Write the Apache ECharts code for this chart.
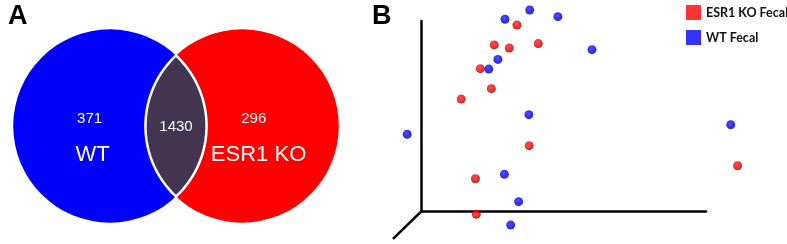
<!DOCTYPE html>
<html>
<head>
<meta charset="utf-8">
<script src="https://cdn.jsdelivr.net/npm/echarts@6/dist/echarts.min.js"></script>
<style>html,body{margin:0;padding:0;background:#fff;}#c{width:787px;height:244px;}</style>
</head>
<body>
<div id="c"></div>
<script>
// ---- Data ----
const vennSetNames = ['WT', 'ESR1 KO'];
const vennUniqueCounts = [371, 296];
const vennSharedCount = 1430;
const vennCenters = [[-0.684, 0], [0.684, 0]]; // unit circles, centre distance / radius
const vennRadius = 1;

const seriesNames = ['ESR1 KO Fecal', 'WT Fecal'];
const koPoints = [
  [33.5, 97.9], [25.5, 87.4], [30.8, 85.8], [41.0, 88.1], [20.6, 74.9],
  [24.5, 64.4], [13.9, 58.9], [37.8, 34.4], [111.1, 23.8], [18.9, 17.0], [19.2, -1.7]
];
const wtPoints = [
  [38.0, 105.8], [29.3, 100.9], [47.9, 102.3], [59.9, 84.9], [26.8, 79.8],
  [23.6, 74.7], [37.7, 50.7], [-5.1, 40.4], [108.7, 45.4], [29.1, 19.3],
  [34.1, 4.9], [31.3, -7.4]
];
const depthAxis = [[0, 0, -10.1, -14.7]];

// ---- Styles ----
const vennColors = ['#0000ff', '#ff0000'];
const lensColor = '#433550';
const countDx = [-0.21, 0.12];
const nameDx = [-0.18, 0.17];

function sphere(light, base, dark) {
  return {
    type: 'radial', x: 0.42, y: 0.38, r: 0.62,
    colorStops: [{offset: 0, color: light}, {offset: 0.6, color: base}, {offset: 1, color: dark}]
  };
}

const chart = echarts.init(document.getElementById('c'), null, {renderer: 'canvas'});

const hiddenAxis = (idx, min, max) => ({
  gridIndex: idx, type: 'value', min, max, show: false
});

const frameAxis = (idx, min, max) => ({
  gridIndex: idx, type: 'value', min, max,
  axisLine: {show: true, onZero: false, lineStyle: {color: '#000', width: 2.5}},
  axisTick: {show: false}, axisLabel: {show: false}, splitLine: {show: false}
});

chart.setOption({
  animation: false,
  title: [
    {text: 'A', left: 3, top: -2, textStyle: {fontFamily: 'Liberation Sans', fontWeight: 'bold', fontSize: 27, color: '#000'}},
    {text: 'B', left: 367, top: -2, textStyle: {fontFamily: 'Liberation Sans', fontWeight: 'bold', fontSize: 27, color: '#000'}}
  ],
  grid: [
    {left: 2, top: 10, width: 348, height: 232},
    {left: 421.7, top: 21, width: 284.3, height: 190}
  ],
  xAxis: [hiddenAxis(0, -1.8, 1.8), frameAxis(1, 0, 100)],
  yAxis: [hiddenAxis(0, -1.2, 1.2), frameAxis(1, 0, 100)],
  legend: {
    data: [
      {name: seriesNames[0], itemStyle: {color: '#ff0000'}},
      {name: seriesNames[1], itemStyle: {color: '#0000ff'}}
    ],
    orient: 'vertical', left: 686, top: 5, padding: 0, itemWidth: 15, itemHeight: 15, itemGap: 10,
    icon: 'rect',
    textStyle: {fontFamily: 'Lato', fontWeight: 'bold', fontSize: 12.5, color: '#111'}
  },
  series: [
    {
      type: 'custom', xAxisIndex: 0, yAxisIndex: 0, silent: true,
      data: vennCenters.map((c, i) => [c[0], c[1], vennRadius, i]),
      renderItem: function (params, api) {
        const i = api.value(3);
        const c = api.coord([api.value(0), api.value(1)]);
        const r = api.size([api.value(2), 0])[0];
        const unit = api.size([1, 0])[0];
        return {
          type: 'group',
          children: [
            {type: 'circle', shape: {cx: c[0], cy: c[1], r: r}, style: {fill: vennColors[i]}},
            {type: 'text', style: {text: String(vennUniqueCounts[i]), x: c[0] + countDx[i] * unit, y: c[1] - 7,
              fill: '#fff', font: '15px "Liberation Sans"', align: 'center', verticalAlign: 'middle'}, z2: 10},
            {type: 'text', style: {text: vennSetNames[i], x: c[0] + nameDx[i] * unit, y: c[1] + 29,
              fill: '#fff', font: '22px "Liberation Sans"', align: 'center', verticalAlign: 'middle'}, z2: 10}
          ]
        };
      }
    },
    {
      type: 'custom', xAxisIndex: 0, yAxisIndex: 0, silent: true, z: 3,
      data: [[vennCenters[0][0], vennCenters[1][0], vennCenters[0][1], vennRadius]],
      renderItem: function (params, api) {
        const a = api.coord([api.value(0), api.value(2)]);
        const b = api.coord([api.value(1), api.value(2)]);
        const r = api.size([api.value(3), 0])[0];
        const d = b[0] - a[0];
        const h = Math.sqrt(r * r - (d / 2) * (d / 2));
        const mx = (a[0] + b[0]) / 2, cy = a[1];
        const pts = [];
        const ang = Math.asin(h / r);
        const N = 60;
        for (let k = 0; k <= N; k++) {
          const t = -ang + (2 * ang) * k / N;
          pts.push([a[0] + r * Math.cos(t), cy + r * Math.sin(t)]);
        }
        for (let k = 0; k <= N; k++) {
          const t = Math.PI - ang + (2 * ang) * k / N;
          pts.push([b[0] + r * Math.cos(t), cy + r * Math.sin(t)]);
        }
        return {
          type: 'group',
          children: [
            {type: 'polygon', shape: {points: pts}, style: {fill: lensColor, stroke: '#fff', lineWidth: 2.5}},
            {type: 'text', style: {text: String(vennSharedCount), x: mx, y: cy + 1, fill: '#fff',
              font: '15px "Liberation Sans"', align: 'center', verticalAlign: 'middle'}, z2: 10}
          ]
        };
      }
    },
    {
      type: 'custom', xAxisIndex: 1, yAxisIndex: 1, data: depthAxis, clip: false, silent: true,
      renderItem: function (params, api) {
        const p0 = api.coord([api.value(0), api.value(1)]);
        const p1 = api.coord([api.value(2), api.value(3)]);
        return {type: 'line', shape: {x1: p0[0], y1: p0[1], x2: p1[0], y2: p1[1]},
          style: {stroke: '#000', lineWidth: 2.5}};
      }
    },
    {
      name: seriesNames[0], type: 'scatter', xAxisIndex: 1, yAxisIndex: 1, data: koPoints,
      symbolSize: 9, clip: false,
      itemStyle: {color: sphere('#ff2020', '#ee0000', '#8a0000')}
    },
    {
      name: seriesNames[1], type: 'scatter', xAxisIndex: 1, yAxisIndex: 1, data: wtPoints,
      symbolSize: 9, clip: false,
      itemStyle: {color: sphere('#2020ff', '#0000ee', '#00008a')}
    }
  ]
});
</script>
</body>
</html>
